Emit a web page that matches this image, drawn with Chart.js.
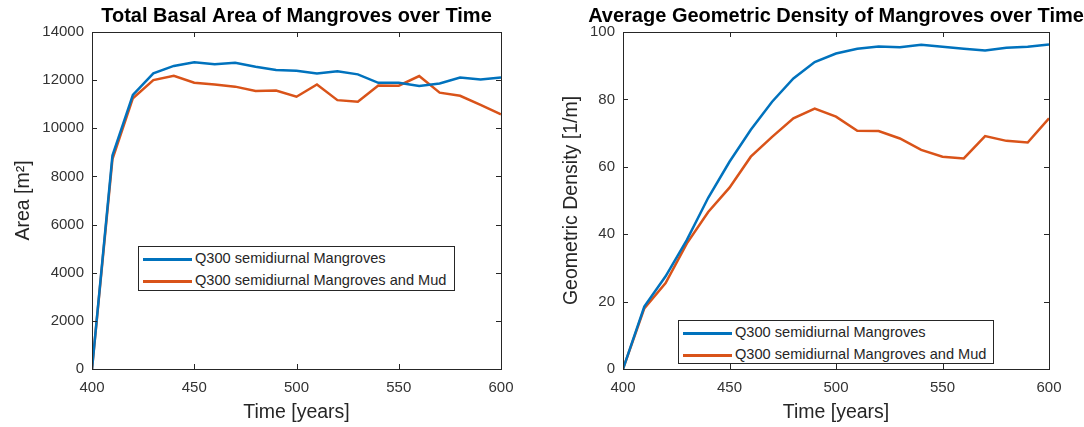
<!DOCTYPE html>
<html>
<head>
<meta charset="utf-8">
<script src="https://cdn.jsdelivr.net/npm/chart.js@4.4.0/dist/chart.umd.min.js"></script>
<style>
  body { margin: 0; background: #fff; width: 1084px; height: 427px; overflow: hidden; position: relative;
         font-family: "Liberation Sans", Arial, sans-serif; }
  canvas { position: absolute; top: 0; }
  .legend { position: absolute; background: #fff; border: 1px solid #262626; box-sizing: border-box;
            font-size: 14.6px; color: #262626; padding: 0 0 0 4px; }
  .legend div { height: 22px; line-height: 22px; white-space: nowrap; }
  .legend span.swatch { display: inline-block; width: 49px; height: 3px; vertical-align: middle; margin-right: 3px; }
</style>
</head>
<body>
<!-- canvases overlap (transparent) so each title is centred over its plot box -->
<canvas id="area" width="593" height="427" style="left:0"></canvas>
<canvas id="density" width="588" height="427" style="left:542px"></canvas>
<div class="legend" id="areaLegend" style="left:138px; top:246px; width:317px; height:45px"></div>
<div class="legend" id="densityLegend" style="left:678px; top:320px; width:316px; height:44px"></div>
<script>
const years = [400, 410, 420, 430, 440, 450, 460, 470, 480, 490, 500,
               510, 520, 530, 540, 550, 560, 570, 580, 590, 600];

const areaMangroves = [0, 8870, 11390, 12280, 12590, 12740, 12660, 12720, 12560, 12420, 12390,
                       12280, 12370, 12240, 11890, 11890, 11760, 11860, 12110, 12030, 12110];
const areaMud = [0, 8720, 11250, 12000, 12180, 11890, 11820, 11730, 11550, 11570, 11310,
                 11820, 11170, 11100, 11780, 11770, 12170, 11480, 11350, 10970, 10580];

const densityMangroves = [0, 18.5, 27.5, 38.3, 50.8, 61.5, 71, 79.3, 86.2, 91.1, 93.6,
                          95.0, 95.7, 95.5, 96.2, 95.6, 95.0, 94.5, 95.3, 95.6, 96.3];
const densityMud = [0, 18, 25.5, 37.3, 46.6, 53.8, 63, 68.9, 74.4, 77.3, 74.9,
                    70.7, 70.6, 68.4, 65.0, 63.0, 62.5, 69.1, 67.7, 67.2, 74.4];

const labels = ['Q300 semidiurnal Mangroves', 'Q300 semidiurnal Mangroves and Mud'];
const colors = ['#0072BD', '#D95319'];

Chart.defaults.font.family = '"Liberation Sans", Arial, sans-serif';
Chart.defaults.color = '#333';

// MATLAB style box with inward ticks on all four sides
const matlabBox = {
   id: 'matlabBox',
   afterDraw(chart) {
      const { ctx, chartArea: a, scales: { x, y } } = chart;
      ctx.save();
      ctx.strokeStyle = '#262626';
      ctx.lineWidth = 1;
      ctx.strokeRect(Math.round(a.left) + 0.5, Math.round(a.top) + 0.5,
                     Math.round(a.width), Math.round(a.height));
      ctx.beginPath();
      x.ticks.forEach((t) => {
         const px = Math.round(x.getPixelForValue(t.value)) + 0.5;
         ctx.moveTo(px, a.bottom); ctx.lineTo(px, a.bottom - 5);
         ctx.moveTo(px, a.top); ctx.lineTo(px, a.top + 5);
      });
      y.ticks.forEach((t) => {
         const py = Math.round(y.getPixelForValue(t.value)) + 0.5;
         ctx.moveTo(a.left, py); ctx.lineTo(a.left + 5, py);
         ctx.moveTo(a.right, py); ctx.lineTo(a.right - 5, py);
      });
      ctx.stroke();
      ctx.restore();
   },
};

const makeChart = (id, cfg) => new Chart(document.getElementById(id), {
   type: 'line',
   data: {
      datasets: cfg.series.map((s, i) => ({
         label: labels[i],
         data: years.map((yr, j) => ({ x: yr, y: s[j] })),
         borderColor: colors[i],
         borderWidth: 2.5,
         pointRadius: 0,
         tension: 0,
         fill: false,
      })),
   },
   options: {
      responsive: false,
      animation: false,
      devicePixelRatio: 1,
      layout: { padding: 0 },
      plugins: {
         legend: { display: false },
         tooltip: { enabled: false },
         title: {
            display: true,
            text: cfg.title,
            color: '#000',
            font: { size: 20, weight: 'bold' },
            padding: { top: 4, bottom: 4 },
         },
      },
      scales: {
         x: {
            type: 'linear',
            min: 400,
            max: 600,
            grid: { display: false, drawTicks: false },
            border: { display: false },
            ticks: { stepSize: 50, padding: 10, font: { size: 15 }, color: '#333', callback: (v) => String(v) },
            title: { display: true, text: 'Time [years]', font: { size: 19.5 }, color: '#262626', padding: { top: 0, bottom: 2.3 } },
            afterFit: (scale) => { scale.height = 58; },
         },
         y: {
            min: 0,
            max: cfg.yMax,
            grid: { display: false, drawTicks: false },
            border: { display: false },
            ticks: { stepSize: cfg.yStep, padding: 8, font: { size: 15 }, color: '#333', callback: (v) => String(v) },
            title: { display: true, text: cfg.yTitle, font: { size: 19.5 }, color: '#262626', padding: { top: cfg.yTitlePad, bottom: 0 } },
            afterFit: (scale) => { scale.width = cfg.yWidth; },
         },
         // empty right margin, same width as the left axis, keeps the title centred on the plot
         margin: {
            position: 'right',
            grid: { display: false, drawTicks: false },
            border: { display: false },
            ticks: { display: false },
            afterFit: (scale) => { scale.width = cfg.yWidth; },
         },
      },
   },
   plugins: [matlabBox],
});

const buildLegend = (id, chart) => {
   const box = document.getElementById(id);
   chart.data.datasets.forEach((ds) => {
      const row = document.createElement('div');
      const sw = document.createElement('span');
      sw.className = 'swatch';
      sw.style.background = ds.borderColor;
      row.appendChild(sw);
      row.appendChild(document.createTextNode(ds.label));
      box.appendChild(row);
   });
};

const areaChart = makeChart('area', {
   series: [areaMangroves, areaMud],
   title: 'Total Basal Area of Mangroves over Time',
   yTitle: 'Area [m²]',
   yMax: 14000,
   yStep: 2000,
   yWidth: 92,
   yTitlePad: 12,
});

const densityChart = makeChart('density', {
   series: [densityMangroves, densityMud],
   title: 'Average Geometric Density of Mangroves over Time',
   yTitle: 'Geometric Density [1/m]',
   yMax: 100,
   yStep: 20,
   yWidth: 81,
   yTitlePad: 18,
});

buildLegend('areaLegend', areaChart);
buildLegend('densityLegend', densityChart);
</script>
</body>
</html>
